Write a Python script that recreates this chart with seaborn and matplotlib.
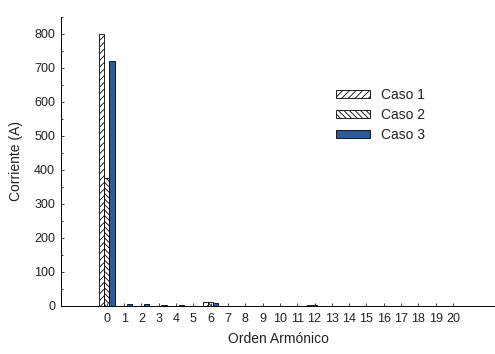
import pandas as pd
import seaborn as sns
import matplotlib.pyplot as plt
from matplotlib.ticker import MultipleLocator

plt.rcParams['hatch.linewidth'] = 0.6
plt.rcParams['font.family'] = ['Liberation Sans', 'DejaVu Sans']
plt.rcParams['text.color'] = '#222222'
plt.rcParams['xtick.color'] = '#222222'
plt.rcParams['ytick.color'] = '#222222'
plt.rcParams['axes.labelcolor'] = '#222222'

orden = list(range(21))
caso1 = [800, 0, 1, 0, 1, 0, 11, 0, 0, 0, 0, 0, 2, 0, 0, 0, 0, 0, 0, 0, 0]
caso2 = [375, 1, 1, 1, 1, 1, 12, 0, 0, 0, 0, 0, 3, 0, 0, 0, 0, 0, 0, 0, 0]
caso3 = [722, 6, 7, 2, 4, 1, 9, 0, 0, 0, 0, 0, 1, 0, 0, 0, 0, 0, 0, 0, 0]
casos = ['Caso 1', 'Caso 2', 'Caso 3']

df = pd.DataFrame({
    'orden': orden * 3,
    'corriente': caso1 + caso2 + caso3,
    'caso': [c for c in casos for _ in orden],
})

fig = plt.figure(figsize=(4.95, 3.54), dpi=100)
ax = fig.add_axes([0.124, 0.1356, 0.876, 0.8164])

sns.barplot(data=df, x='orden', y='corriente', hue='caso', hue_order=casos,
            palette=['white', 'white', '#1f56a8'], width=0.9,
            edgecolor='black', linewidth=0.6, legend=False, ax=ax)

hatches = ['/////', '\\\\\\\\\\\\', '']
for cont, h in zip(ax.containers, hatches):
    for bar in cont:
        bar.set_hatch(h)

leg = ax.legend(ax.containers, casos, loc='upper left', bbox_to_anchor=(0.634, 0.756),
                frameon=False, fontsize=10, handlelength=2.4, handleheight=0.5,
                labelspacing=0.45, handletextpad=0.8, borderpad=0, borderaxespad=0)

ax.set_xlim(-2.63, 22.43)
ax.set_ylim(0, 850)
ax.yaxis.set_major_locator(MultipleLocator(100))
ax.yaxis.set_minor_locator(MultipleLocator(50))
ax.tick_params(axis='y', which='major', direction='in', length=2.5, width=0.6,
               labelsize=9, pad=4.5)
ax.tick_params(axis='y', which='minor', direction='in', length=1.5, width=0.6)
ax.tick_params(axis='x', direction='in', length=2, width=0.6, labelsize=9, pad=5)
for s in ['top', 'right']:
    ax.spines[s].set_visible(False)
for s in ['left', 'bottom']:
    ax.spines[s].set_linewidth(0.7)

ax.set_xlabel('Orden Armónico', fontsize=10, labelpad=5)
ax.set_ylabel('Corriente (A)', fontsize=10, labelpad=8)

fig.savefig('out.png', dpi=100)
